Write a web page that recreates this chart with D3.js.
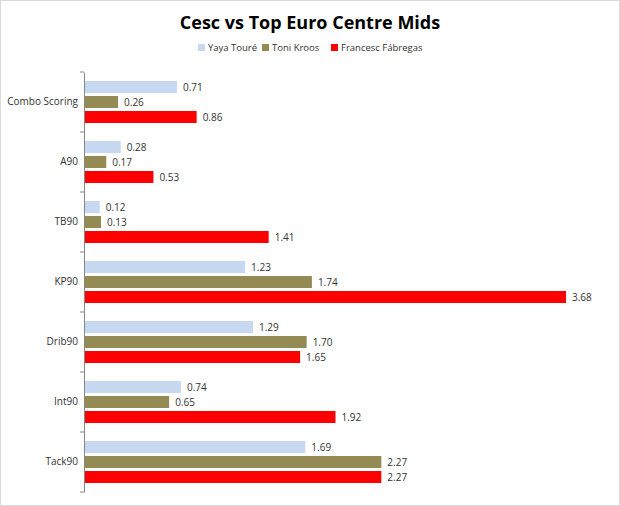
<!DOCTYPE html>
<html><head><meta charset="utf-8">
<script src="https://cdn.jsdelivr.net/npm/d3@7"></script>
<style>body{margin:0;background:#fff;font-family:"Open Sans","DejaVu Sans",sans-serif}</style>
</head><body><svg id="c" width="620" height="506"></svg>
<script>
const categories=["Combo Scoring","A90","TB90","KP90","Drib90","Int90","Tack90"];
const seriesNames=["Yaya Touré","Toni Kroos","Francesc Fábregas"];
const yaya=[0.71,0.28,0.12,1.23,1.29,0.74,1.69];
const kroos=[0.26,0.17,0.13,1.74,1.70,0.65,2.27];
const fabregas=[0.86,0.53,1.41,3.68,1.65,1.92,2.27];
const colors=["#c6d9f1","#948a54","#ff0000"];
const series=[yaya,kroos,fabregas];

const svg=d3.select("#c");
svg.append("rect").attr("x",0.5).attr("y",0.5).attr("width",619).attr("height",505).attr("fill","#fff").attr("stroke","#d9d9d9");
svg.append("text").attr("x",310).attr("y",29).attr("text-anchor","middle").attr("font-size",18).attr("font-weight","bold").text("Cesc vs Top Euro Centre Mids");

// legend
const lx=[198,262,331];
seriesNames.forEach((n,i)=>{
  svg.append("rect").attr("x",lx[i]).attr("y",44).attr("width",7).attr("height",7).attr("fill",colors[i]);
  svg.append("text").attr("x",lx[i]+10).attr("y",51).attr("font-size",9.5).attr("fill","#333").text(n);
});

const x=d3.scaleLinear().domain([0,3.68]).range([84,566]);
const y=d3.scaleBand().domain(categories).range([72,492]);
const inner=d3.scaleBand().domain([0,1,2]).range([9,51]).paddingInner(0.2);

series.forEach((s,i)=>{
  const g=svg.append("g");
  g.selectAll("rect").data(s).join("rect")
    .attr("x",x(0)).attr("y",(d,j)=>y(categories[j])+inner(i))
    .attr("width",d=>x(d)-x(0)).attr("height",inner.bandwidth()).attr("fill",colors[i]);
  g.selectAll("text").data(s).join("text")
    .attr("x",d=>x(d)+6).attr("y",(d,j)=>y(categories[j])+inner(i)+inner.bandwidth()/2+3.5)
    .attr("font-size",10).attr("fill","#333").text(d=>d.toFixed(2));
});

const ax=svg.append("g").attr("transform","translate(84,0)").call(d3.axisLeft(y).tickSize(0).tickPadding(6));
ax.select(".domain").attr("stroke","#868686");
ax.selectAll("text").attr("font-size",10).attr("fill","#333").attr("font-family","'Open Sans','DejaVu Sans',sans-serif");
ax.selectAll(".tk").data(d3.range(8)).join("line").attr("x1",-4).attr("x2",0)
  .attr("y1",d=>72+d*60).attr("y2",d=>72+d*60).attr("stroke","#868686");
</script></body></html>
